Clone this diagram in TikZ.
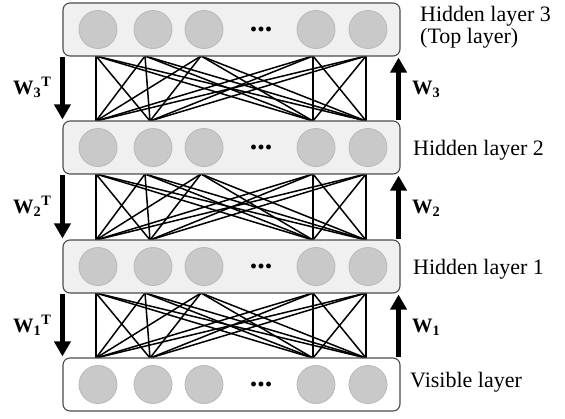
\documentclass[tikz,border=0pt]{standalone}
\usepackage{fontspec}
\setmainfont{Liberation Serif}
\usetikzlibrary{arrows.meta}
\begin{document}
\begin{tikzpicture}[x=1pt,y=-1pt,
  layerbox/.style={draw=black!70, line width=1.1pt, rounded corners=7pt, fill=black!6,
    minimum width=337pt, minimum height=53pt, inner sep=0pt},
  visbox/.style={layerbox, fill=white},
  neuron/.style={circle, minimum size=38pt, inner sep=0pt, draw=black!28, fill=black!21, line width=0.8pt},
  dots/.style={font=\fontsize{30}{30}\selectfont\bfseries, inner sep=0pt},
  conn/.style={line width=1.5pt, black},
  warrow/.style={line width=4.7pt, -{Triangle[width=16pt,length=15pt]}},
  lbl/.style={font=\fontsize{22}{22}\selectfont, anchor=base west, inner sep=0pt},
  wlbl/.style={font=\fontsize{20.5}{20}\selectfont\bfseries, anchor=base west, inner sep=0pt}]
\useasboundingbox (0,0) rectangle (565,418);

% connections between layers
\foreach \g/\yt/\yb in {3/56/121, 2/174/240, 1/293/358}{
  \foreach \x [count=\i] in {96,145,201,313,366} \coordinate (t\g\i) at (\x,\yt);
  \foreach \x [count=\i] in {96,150,313,366} \coordinate (b\g\i) at (\x,\yb);
  \foreach \i in {1,...,5}{
    \foreach \j in {1,...,4}{
      \draw[conn] (t\g\i) -- (b\g\j);
    }
  }
}

% layer boxes
\node[layerbox] (box3) at (231.5,29.5) {};
\node[layerbox] (box2) at (231.5,147.5) {};
\node[layerbox] (box1) at (231.5,266.5) {};
\node[visbox]   (box0) at (231.5,384.5) {};

% neurons
\foreach \l/\y in {3/29.5, 2/147.5, 1/266.5, 0/384.5}{
  \foreach \x [count=\i] in {98,153,204,316,368}{
    \node[neuron] (n\l\i) at (\x,\y) {};
  }
  \node[dots] (d\l) at (261,\y) {...};
}

% arrows
\draw[warrow] (box3.south west) -- ([yshift=1pt]box2.north west);
\draw[warrow] (box2.south west) -- ([yshift=1pt]box1.north west);
\draw[warrow] (box1.south west) -- ([yshift=1pt]box0.north west);
\draw[warrow] ([xshift=-2pt]box2.north east) -- ([xshift=-2pt,yshift=-1pt]box3.south east);
\draw[warrow] ([xshift=-2pt]box1.north east) -- ([xshift=-2pt,yshift=-1pt]box2.south east);
\draw[warrow] ([xshift=-2pt]box0.north east) -- ([xshift=-2pt,yshift=-1pt]box1.south east);

% weight labels
\node[wlbl] (w3t) at (13,94) {W\textsubscript{3}\textsuperscript{T}};
\node[wlbl] (w2t) at (13,213) {W\textsubscript{2}\textsuperscript{T}};
\node[wlbl] (w1t) at (13,332) {W\textsubscript{1}\textsuperscript{T}};
\node[wlbl] (w3) at (412,94) {W\textsubscript{3}};
\node[wlbl] (w2) at (412,213) {W\textsubscript{2}};
\node[wlbl] (w1) at (412,332) {W\textsubscript{1}};

% layer labels
\node[lbl] (l3a) at (420,21.5) {Hidden layer 3};
\node[lbl] (l3b) at (420,43) {(Top layer)};
\node[lbl] (l2) at (413,155) {Hidden layer 2};
\node[lbl] (l1) at (413,274) {Hidden layer 1};
\node[lbl] (l0) at (410,387) {Visible layer};
\end{tikzpicture}
\end{document}
